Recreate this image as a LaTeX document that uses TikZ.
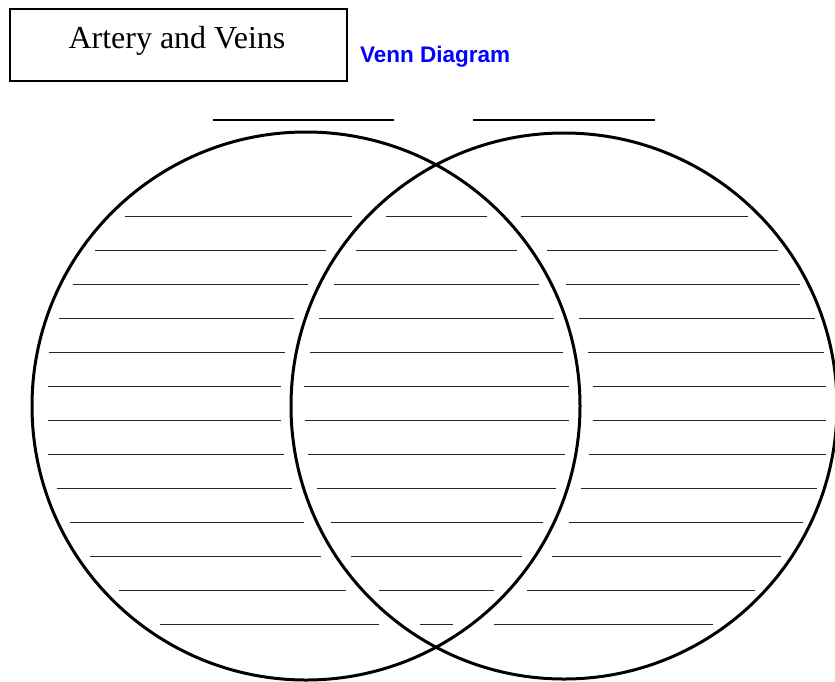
\documentclass[tikz,border=0pt]{standalone}
\usepackage{fontspec}
\setmainfont{Liberation Serif}
\newfontfamily\headfont{Liberation Sans}
\usepackage{tikz}
\definecolor{headblue}{RGB}{0,0,255}
\tikzset{
  blank/.style={line width=1.4pt,black!85},
  ring/.style={line width=3pt},
}

\begin{document}
\begin{tikzpicture}[x=1pt,y=-1pt]
  \useasboundingbox (0,0) rectangle (835,681);
  % title box
  \draw[line width=2pt] (9.5,8.5) rectangle (347,81);
  \node[anchor=base west,inner sep=0pt,font=\fontsize{32}{36}\selectfont] (title) at (68.3,48.3) {Artery and Veins};
  \node[anchor=base west,inner sep=0pt,text=headblue,font=\headfont\bfseries\fontsize{22.5}{26}\selectfont] (heading) at (360,62.7) {Venn Diagram};
  % set names
  \draw[line width=2pt] (213,120) -- (394,120);
  \draw[line width=2pt] (473,120) -- (655,120);
  % the two sets
  \draw[ring] (306,406) circle (274);
  \draw[ring] (564,406) circle (273);
  % writing lines: y / left / middle / right
  \foreach \y/\a/\b/\c/\d/\e/\f in {
      216.5/125.3/351.7/386/486.7/521/747.7,
      250.5/95/325.7/355.7/517.3/547.3/778.3,
      284.5/73.3/307.7/334/539/565.7/800,
      318.5/58.7/294.3/319.3/553.7/579.3/814.7,
      352.5/49.3/285/310/562.7/588.3/823.7,
      386.5/48.3/280.7/304.3/568.7/592.7/826,
      420.5/48.3/280.7/304.7/568.7/592.7/826,
      454.5/48.3/284/308/565.3/589.3/826,
      488.5/56.7/291.7/317/556/581.3/817,
      522.5/70/304.3/330.7/542.7/568.7/803.3,
      556.5/90.3/321/351/522/552/780.7,
      590.5/118.7/346.3/379.3/493.7/526.7/754.7,
      624.5/160/379.3/420/452.7/494/713.3}{
    \draw[blank] (\a,\y) -- (\b,\y);
    \draw[blank] (\c,\y) -- (\d,\y);
    \draw[blank] (\e,\y) -- (\f,\y);
  }
\end{tikzpicture}
\end{document}
